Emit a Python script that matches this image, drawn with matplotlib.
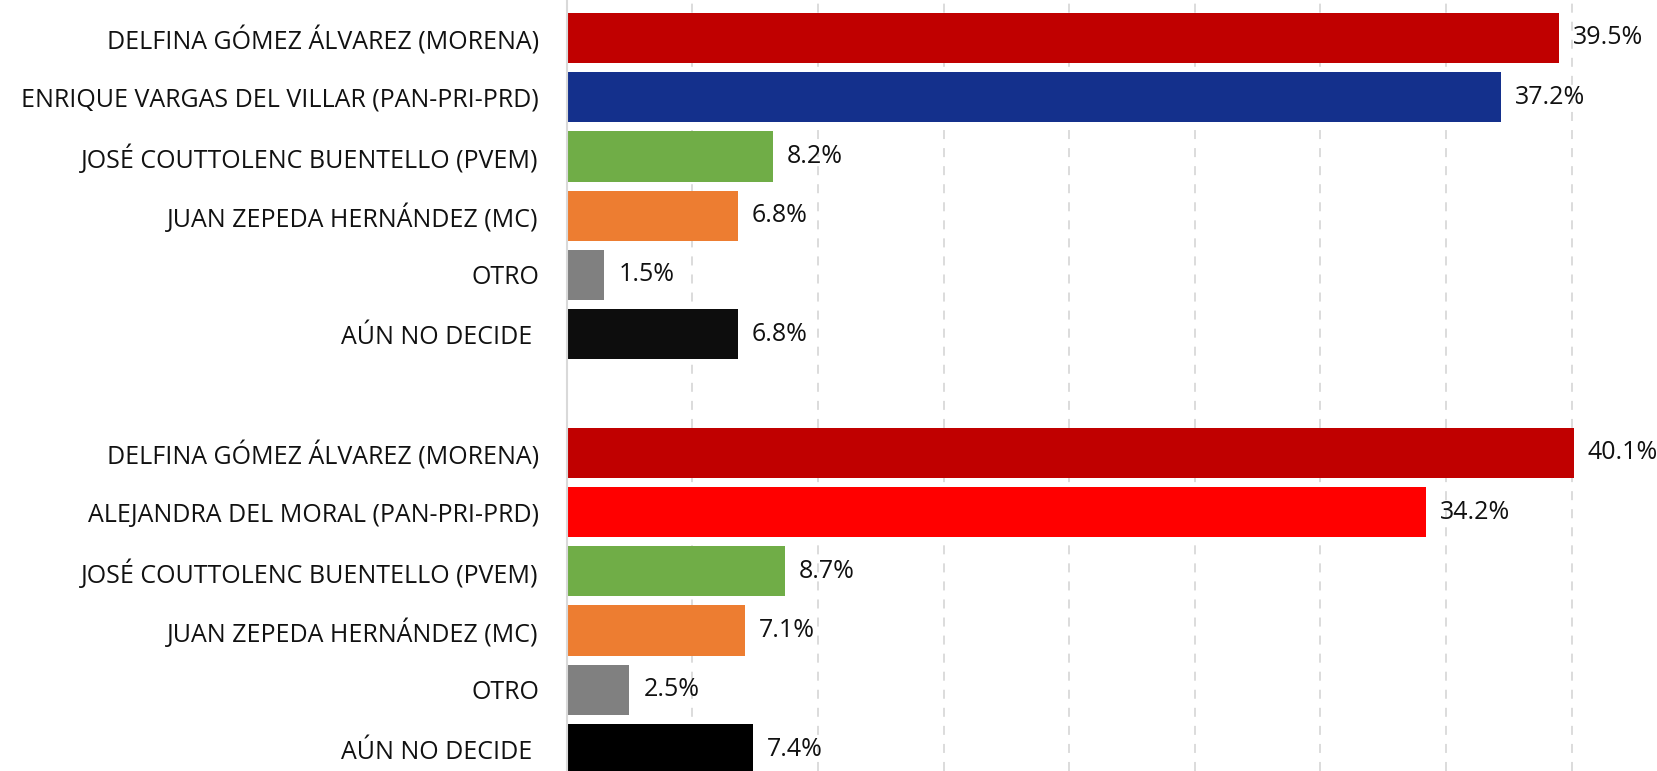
import matplotlib
matplotlib.use("Agg")
import matplotlib.pyplot as plt

plt.rcParams['font.family'] = ['Open Sans', 'DejaVu Sans']

labels_a = ["DELFINA GÓMEZ ÁLVAREZ (MORENA)", "ENRIQUE VARGAS DEL VILLAR (PAN-PRI-PRD)",
            "JOSÉ COUTTOLENC BUENTELLO (PVEM)", "JUAN ZEPEDA HERNÁNDEZ (MC)",
            "OTRO", "AÚN NO DECIDE "]
values_a = [39.5, 37.2, 8.2, 6.8, 1.5, 6.8]
colors_a = ["#C00000", "#14308C", "#70AD47", "#ED7D31", "#808080", "#0D0D0D"]

labels_b = ["DELFINA GÓMEZ ÁLVAREZ (MORENA)", "ALEJANDRA DEL MORAL (PAN-PRI-PRD)",
            "JOSÉ COUTTOLENC BUENTELLO (PVEM)", "JUAN ZEPEDA HERNÁNDEZ (MC)",
            "OTRO", "AÚN NO DECIDE "]
values_b = [40.1, 34.2, 8.7, 7.1, 2.5, 7.4]
colors_b = ["#C00000", "#FF0000", "#70AD47", "#ED7D31", "#808080", "#000000"]

# one empty slot between the two groups
pos_a = list(range(len(values_a)))
pos_b = [p + len(values_a) + 1 for p in range(len(values_b))]

fig = plt.figure(figsize=(16.57, 7.71), dpi=100)
ax = fig.add_axes([0.342, 0.0, 0.658, 1.0])

ax.barh(pos_a, values_a, height=0.85, color=colors_a, zorder=3)
ax.barh(pos_b, values_b, height=0.85, color=colors_b, zorder=3)

for p, v in zip(pos_a + pos_b, values_a + values_b):
    ax.annotate(f"{v}%", (v, p), xytext=(10, 0), textcoords="offset points",
                va="center", ha="left", fontsize=18, color="#111111")

ax.set_yticks(pos_a + pos_b)
ax.set_yticklabels(labels_a + labels_b, fontsize=18, color="#111111")
ax.tick_params(axis="y", length=0, pad=20)
ax.tick_params(axis="x", length=0, labelbottom=False)

ax.set_xlim(0, 43.4)
ax.set_ylim(12.37, -0.64)
ax.set_xticks([0, 5, 10, 15, 20, 25, 30, 35, 40])
ax.grid(axis="x", color="#D9D9D9", linestyle=(0, (5, 5)), linewidth=1.3, zorder=0)

for s in ["top", "right", "bottom"]:
    ax.spines[s].set_visible(False)
ax.spines["left"].set_color("#D9D9D9")
ax.spines["left"].set_linewidth(1.5)
ax.spines["left"].set_zorder(4)

fig.savefig("out.png", dpi=100)
